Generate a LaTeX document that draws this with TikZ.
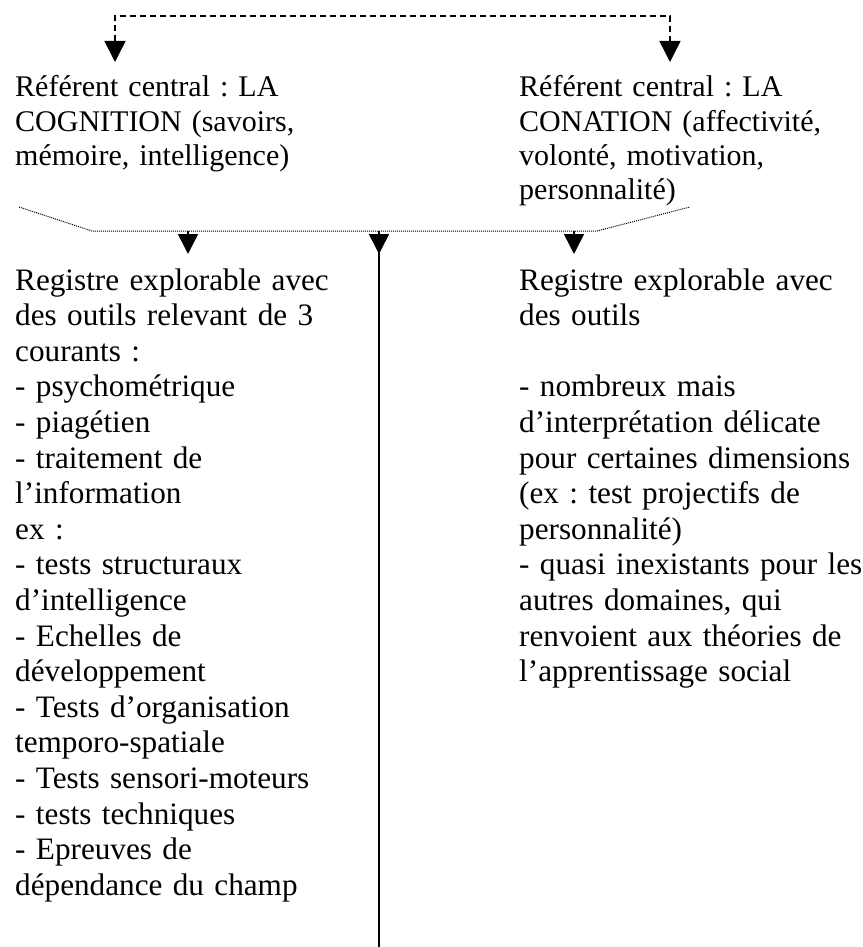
\documentclass[tikz,border=0pt]{standalone}
\usepackage{fontspec}
\setmainfont{Liberation Serif}
\usetikzlibrary{arrows.meta}
\frenchspacing
\begin{document}
\begin{tikzpicture}[x=1pt,y=-1pt,
  toptext/.style={anchor=base west, inner sep=0pt, text width=400pt, align=left, font=\fontsize{30}{34.2}\selectfont},
  bottext/.style={anchor=base west, inner sep=0pt, text width=420pt, align=left, font=\fontsize{31.2}{35.6}\selectfont},
  toptips/.style={{Triangle[width=21pt,length=21pt]}-{Triangle[width=21pt,length=21pt]}},
  bottip/.style={-{Triangle[width=20pt,length=20pt]}},
  dashline/.style={line width=1.5pt, dash pattern=on 6pt off 4pt},
  dotline/.style={line width=1pt, dash pattern=on 1pt off 1pt},
  solidline/.style={line width=1.6pt}]
\path[use as bounding box] (0,0) rectangle (862,947);

% top texts
\node[toptext] (cogn) at (15,97) {Référent central : LA\\COGNITION (savoirs,\\mémoire, intelligence)};
\node[toptext] (conat) at (519,97) {Référent central : LA\\CONATION (affectivité,\\volonté, motivation,\\personnalité)};

% bottom texts
\node[bottext] (regl) at (15,290) {Registre explorable avec\\des outils relevant de 3\\courants :\\- psychométrique\\- piagétien\\- traitement de\\l’information\\ex :\\- tests structuraux\\d’intelligence\\- Echelles de\\développement\\- Tests d’organisation\\temporo-spatiale\\- Tests sensori-moteurs\\- tests techniques\\- Epreuves de\\dépendance du champ};
\node[bottext] (regr) at (519,290) {Registre explorable avec\\des outils\\\mbox{}\\- nombreux mais\\d’interprétation délicate\\pour certaines dimensions\\(ex : test projectifs de\\personnalité)\\- quasi inexistants pour les\\autres domaines, qui\\renvoient aux théories de\\l’apprentissage social};

% top dashed double arrow
\coordinate (cogtip) at (115,62);
\coordinate (contip) at (670,62);
\draw[dashline, toptips] (cogtip) -- (cogtip |- 0,16) -- (contip |- 0,16) -- (contip);

% dotted bracket
\coordinate (dL) at (19,207);
\coordinate (dLb) at (92,231);
\coordinate (dRb) at (597,231);
\coordinate (dR) at (690,207);
\draw[dotline] (dL) -- (dLb) -- (dRb) -- (dR);

% arrows down
\coordinate (a1) at (188,231);
\coordinate (a2) at (379,231);
\coordinate (a3) at (574,231);
\coordinate (t1) at (188,254);
\coordinate (t2) at (379,254);
\coordinate (t3) at (574,254);
\coordinate (bot) at (379,947);
\draw[solidline] (a2) -- (bot);
\draw[solidline, bottip] (a1) -- (t1);
\draw[solidline, bottip] (a2) -- (t2);
\draw[solidline, bottip] (a3) -- (t3);
\end{tikzpicture}
\end{document}
